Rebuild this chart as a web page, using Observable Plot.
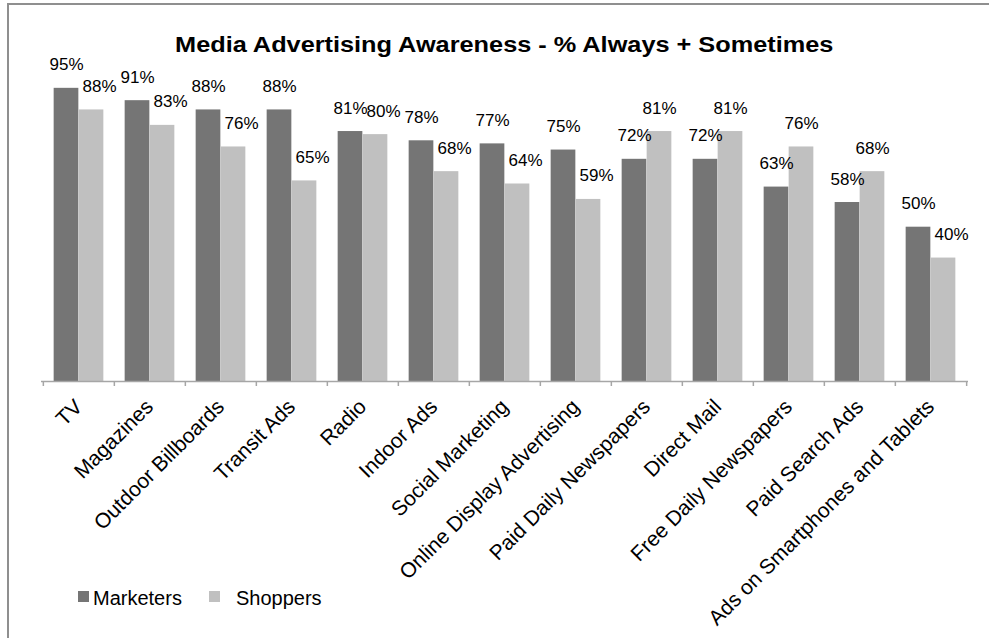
<!DOCTYPE html>
<html><head><meta charset="utf-8">
<script src="https://cdn.jsdelivr.net/npm/d3@7"></script>
<script src="https://cdn.jsdelivr.net/npm/@observablehq/plot@0.6"></script>
<style>
body{margin:0;background:#fff;font-family:"Liberation Sans",Arial,sans-serif;}
#wrap{position:relative;width:989px;height:638px;overflow:hidden;background:#fff;}
#frame{position:absolute;left:7px;top:3px;width:1000px;height:700px;border-left:2px solid #8f8f8f;border-top:2px solid #8f8f8f;}
#chart{position:absolute;left:0;top:0;}
#title{position:absolute;left:0;top:34px;width:1008px;text-align:center;font-size:22px;font-weight:bold;line-height:22px;color:#000;white-space:nowrap;}
#title span{display:inline-block;transform:scaleX(1.15);}
.lg-sw{position:absolute;width:11px;height:11px;top:591px;}
.lg-tx{position:absolute;top:588px;font-size:20px;line-height:20px;color:#000;white-space:nowrap;}
</style></head>
<body><div id="wrap"><div id="frame"></div><div id="chart"></div><div id="title"><span></span></div><div id="legend"></div></div>
<script>
const titleText = "Media Advertising Awareness - % Always + Sometimes";
const categories = ["TV","Magazines","Outdoor Billboards","Transit Ads","Radio","Indoor Ads","Social Marketing","Online Display Advertising","Paid Daily Newspapers","Direct Mail","Free Daily Newspapers","Paid Search Ads","Ads on Smartphones and Tablets"];
const marketers = [95,91,88,88,81,78,77,75,72,72,63,58,50];
const shoppers  = [88,83,76,65,80,68,64,59,81,81,76,68,40];
const seriesNames = ["Marketers","Shoppers"];
const seriesColors = ["#757575","#c0c0c0"];

const W = 989, H = 638, mL = 41, mR = 21, mT = 72.4, mB = 257;
const bw = (W - mL - mR) / categories.length;
const barW = 25, gapL = (bw - 2 * barW) / 2;
const rows = categories.map((c, i) => ({category: c, marketers: marketers[i], shoppers: shoppers[i]}));
const pct = v => v + "%";
const darkDx = gapL + barW / 2 - bw / 2;
const lightDx = gapL + 1.5 * barW - bw / 2;
const axisStroke = "#a6a6a6";

const plot = Plot.plot({
  width: W, height: H,
  marginLeft: mL, marginRight: mR, marginTop: mT, marginBottom: mB,
  style: {fontFamily: "'Liberation Sans', Arial, sans-serif", background: "transparent", overflow: "visible"},
  x: {domain: categories, padding: 0, label: null},
  y: {domain: [0, 100], axis: null, label: null},
  marks: [
    Plot.barY(rows, {x: "category", y: "marketers", fill: seriesColors[0], insetLeft: gapL, insetRight: bw - gapL - barW}),
    Plot.barY(rows, {x: "category", y: "shoppers", fill: seriesColors[1], insetLeft: gapL + barW, insetRight: gapL}),
    Plot.ruleY([0], {stroke: axisStroke, strokeWidth: 1.5}),
    Plot.axisX({tickSize: 5, text: null, label: null, dx: -bw / 2, stroke: axisStroke, strokeWidth: 1.5, strokeOpacity: 1}),
    Plot.axisX([categories[categories.length - 1]], {tickSize: 5, text: null, label: null, dx: bw / 2, stroke: axisStroke, strokeWidth: 1.5, strokeOpacity: 1}),
    Plot.text(categories, {x: d => d, frameAnchor: "bottom", rotate: -45, textAnchor: "end", lineAnchor: "top", dx: -6, dy: 16, fontSize: 21, fill: "#000"}),
    Plot.text(rows, {x: "category", y: "marketers", text: d => pct(d.marketers), dx: darkDx, dy: -18, lineAnchor: "bottom", fontSize: 17, fill: "#000"}),
    Plot.text(rows.filter(d => d.shoppers > d.marketers), {x: "category", y: "shoppers", text: d => pct(d.shoppers), dx: lightDx, dy: -18, lineAnchor: "bottom", fontSize: 17, fill: "#000"}),
    Plot.text(rows.filter(d => d.shoppers <= d.marketers), {x: "category", y: "shoppers", text: d => pct(d.shoppers), dx: lightDx + 8, dy: -18, lineAnchor: "bottom", fontSize: 17, fill: "#000"})
  ]
});
document.getElementById("chart").appendChild(plot);
document.querySelector("#title span").textContent = titleText;

const legend = document.getElementById("legend");
const lgPos = [{sw: 78, tx: 93}, {sw: 209, tx: 236}];
seriesNames.forEach((name, i) => {
  const sw = document.createElement("div");
  sw.className = "lg-sw"; sw.style.left = lgPos[i].sw + "px"; sw.style.background = seriesColors[i];
  const tx = document.createElement("div");
  tx.className = "lg-tx"; tx.style.left = lgPos[i].tx + "px"; tx.textContent = name;
  legend.appendChild(sw); legend.appendChild(tx);
});
</script>
</body></html>
